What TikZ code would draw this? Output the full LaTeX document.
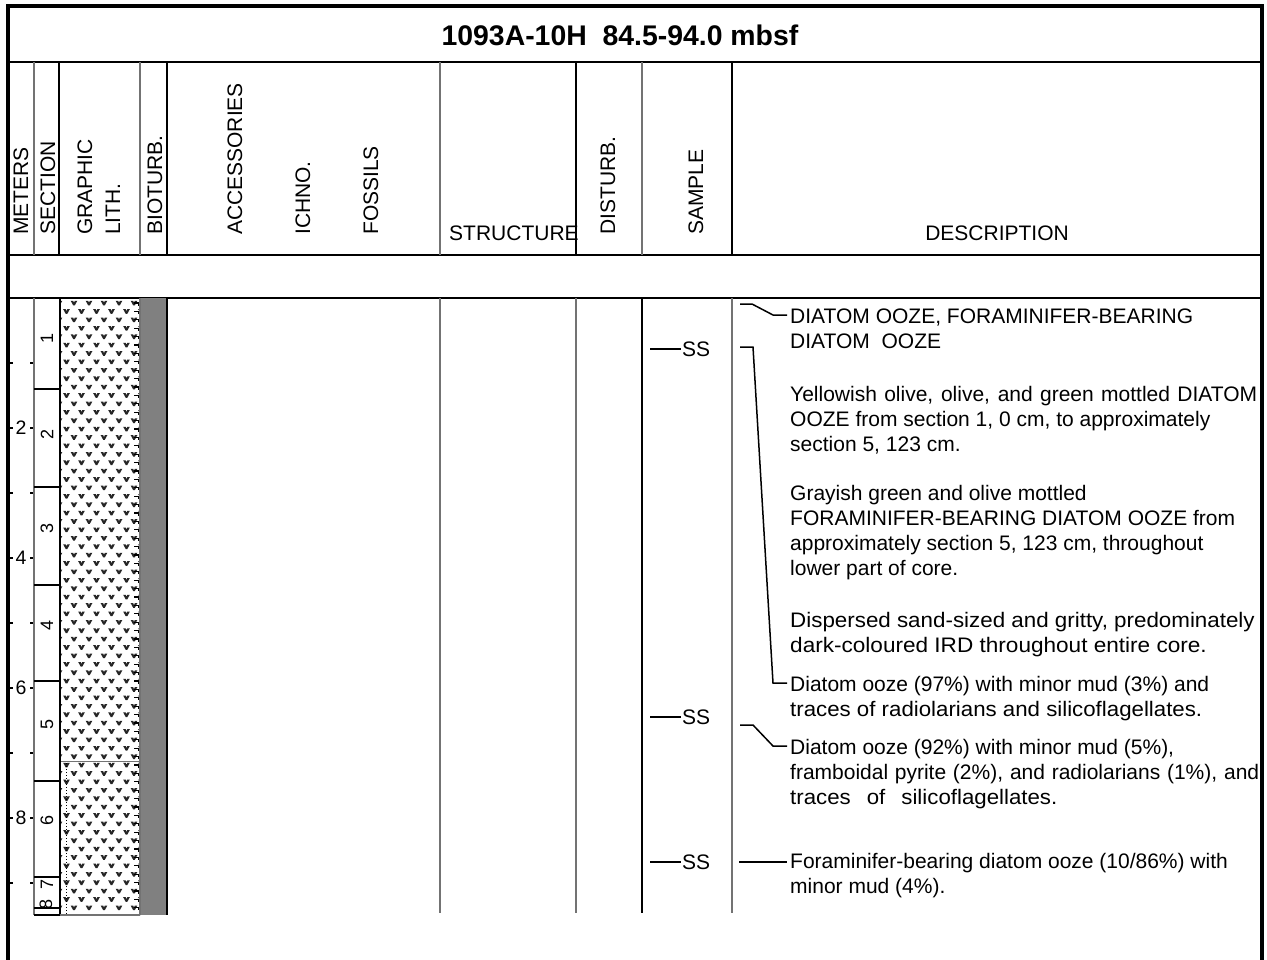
\documentclass[tikz,border=0pt]{standalone}
\usepackage{graphicx}
\usepackage{fontspec}
\setmainfont{Liberation Sans}
\newcommand\diasym[2]{%
  \fill[black!85] (#1-3.3,#2-2.2) -- (#1-0.8,#2-2.2) -- (#1,#2-0.3) -- (#1+0.8,#2-2.2) -- (#1+3.3,#2-2.2) -- (#1+0.8,#2+2.4) -- (#1-0.8,#2+2.4) -- cycle;}
\begin{document}
\begin{tikzpicture}[x=1pt,y=-1pt,
  frame/.style={line width=4pt, black},
  rule/.style={line width=2.5pt, black},
  colblack/.style={line width=1.2pt, black},
  colgray/.style={line width=1.2pt, black!55},
  hdr/.style={font=\fontsize{21}{25}\selectfont, inner sep=0pt},
  vhdr/.style={hdr, rotate=90, anchor=base west},
  desc/.style={font=\fontsize{21}{25}\selectfont, inner sep=0pt, anchor=base west},
  mtr/.style={font=\fontsize{19.5}{22}\selectfont, inner sep=0pt},
  secnum/.style={font=\fontsize{18}{20}\selectfont, inner sep=0pt, rotate=90},
  conn/.style={line width=1.5pt, black},
  ssmark/.style={line width=1.5pt, black},
  tick/.style={line width=1.5pt, black},
  secline/.style={line width=2pt, black}
]
\useasboundingbox (0,0) rectangle (1267,959);
\fill[white] (0,0) rectangle (1267,959);

% ---------- frame and rows ----------
\draw[frame] (8,962) -- (8,6) -- (1262,6) -- (1262,962);
\draw[rule] (8,62) -- (1262,62);
\draw[rule] (8,255) -- (1262,255);
\draw[rule] (8,298) -- (1262,298);

% ---------- title ----------
\node[font=\bfseries\fontsize{28.4}{32}\selectfont, inner sep=0pt, anchor=base] (title) at (620,45) {1093A-10H\ \ 84.5-94.0 mbsf};

% ---------- header column lines ----------
\foreach \x in {34,140,440,642} {\draw[colgray] (\x,62) -- (\x,255);}
\foreach \x in {59,167,576,732} {\draw[colblack] (\x,62) -- (\x,255);}

% ---------- header labels ----------
\node[vhdr] (hmeters) at (28,235) {METERS};
\node[vhdr] (hsection) at (55,235) {SECTION};
\node[vhdr] (hgraphic) at (92,235) {GRAPHIC};
\node[vhdr] (hlith) at (120,235) {LITH.};
\node[vhdr] (hbioturb) at (162,235) {BIOTURB.};
\node[vhdr] (haccess) at (242,235) {ACCESSORIES};
\node[vhdr] (hichno) at (310,235) {ICHNO.};
\node[vhdr] (hfossils) at (378,235) {FOSSILS};
\node[hdr, anchor=base west] (hstruct) at (449,240) {STRUCTURE};
\node[vhdr] (hdisturb) at (615,235) {DISTURB.};
\node[vhdr] (hsample) at (703,235) {SAMPLE};
\node[hdr, anchor=base] (hdesc) at (997,240) {DESCRIPTION};

% ---------- meter scale ----------
\foreach \m in {1,...,9} {
  \pgfmathsetmacro\yy{298+\m*65}
  \draw[tick] (8,\yy) -- (13,\yy);
  \draw[tick] (30,\yy) -- (34,\yy);
}
\node[mtr] (m2) at (21,428) {2};
\node[mtr] (m4) at (21,558) {4};
\node[mtr] (m6) at (21,688) {6};
\node[mtr] (m8) at (21,818) {8};

% ---------- section column ----------
\draw[colgray] (34,298) -- (34,915);
\foreach \y in {389,487,585,681,781,877,908,915} {\draw[secline] (34,\y) -- (60,\y);}
\node[secnum] (s1) at (47,338) {1};
\node[secnum] (s2) at (47,434) {2};
\node[secnum] (s3) at (47,528) {3};
\node[secnum] (s4) at (47,625) {4};
\node[secnum] (s5) at (47,724) {5};
\node[secnum] (s6) at (47,820) {6};
\node[secnum] (s7) at (47,884) {7};
\node[secnum] (s8) at (46,904) {8};

% ---------- graphic lithology ----------
\begin{scope}
\clip (60,298) rectangle (140,915);
\foreach \r in {0,...,73} {
  \pgfmathsetmacro\yy{303+\r*8.4}
  \pgfmathsetmacro\off{mod(\r,2)*7.5}
  \foreach \c in {0,...,5} {
    \pgfmathsetmacro\xx{59+\c*15+\off}
    \diasym{\xx}{\yy}
  }
  \draw[line width=1.3pt] (134,\yy) -- (139,\yy) -- (139,\yy+2.6);
}
\end{scope}
\draw[line width=1pt, black!55] (60,761) -- (140,761);
\draw[line width=1pt, black, dotted] (66,763) -- (66,914);
\draw[line width=2.5pt] (60,298) -- (60,916);
\draw[colgray] (60,915) -- (140,915);
\draw[colgray] (140,298) -- (140,915);

% ---------- bioturbation ----------
\fill[black!50] (140.6,298) rectangle (167,915);
\draw[line width=2pt] (167,298) -- (167,915);

% ---------- data column lines ----------
\foreach \x in {440,576,732} {\draw[colgray] (\x,298) -- (\x,913);}
\draw[colblack] (642,298) -- (642,913);

% ---------- samples ----------
\node[hdr, anchor=west] (ss1) at (682,349) {SS};
\node[hdr, anchor=west] (ss2) at (682,717) {SS};
\node[hdr, anchor=west] (ss3) at (682,862) {SS};
\coordinate (sa1) at (650,349);
\coordinate (sa2) at (650,717);
\coordinate (sa3) at (650,862);
\draw[ssmark] (sa1) -- ([xshift=-1pt]ss1.west);
\draw[ssmark] (sa2) -- ([xshift=-1pt]ss2.west);
\draw[ssmark] (sa3) -- ([xshift=-1pt]ss3.west);

% ---------- description ----------
\node[desc] (d1) at (790,323.5) {\parbox[t]{480pt}{DIATOM OOZE, FORAMINIFER-BEARING\\DIATOM\ \ OOZE}};
\node[desc] (d2) at (790,401) {\parbox[t]{480pt}{\makebox[467pt][s]{Yellowish olive, olive, and green mottled DIATOM}\\OOZE from section 1, 0 cm, to approximately\\section 5, 123 cm.}};
\node[desc] (d3) at (790,500) {\parbox[t]{480pt}{Grayish green and olive mottled\\FORAMINIFER-BEARING DIATOM OOZE from\\approximately section 5, 123 cm, throughout\\lower part of core.}};
\node[desc] (d4) at (790,627.5) {\parbox[t]{480pt}{\scalebox{1.065}[1]{Dispersed sand-sized and gritty, predominately}\\\scalebox{1.075}[1]{dark-coloured IRD throughout entire core.}}};
\node[desc] (d5) at (790,691) {\parbox[t]{480pt}{Diatom ooze (97\%) with minor mud (3\%) and\\\scalebox{1.06}[1]{traces of radiolarians and silicoflagellates.}}};
\node[desc] (d6) at (790,754.5) {\parbox[t]{480pt}{Diatom ooze (92\%) with minor mud (5\%),\\\makebox[469pt][s]{framboidal pyrite (2\%), and radiolarians (1\%), and}\\\scalebox{1.06}[1]{\makebox[252pt][s]{traces of silicoflagellates.}}}};
\node[desc] (d7) at (790,868.5) {\parbox[t]{480pt}{Foraminifer-bearing diatom ooze (10/86\%) with\\minor mud (4\%).}};

% ---------- connectors ----------
\coordinate (c1a) at (740,304); \coordinate (c1b) at (752,304);
\coordinate (c1c) at (773,315); \coordinate (c1d) at (787,315);
\draw[conn] (c1a) -- (c1b) -- (c1c) -- (c1d);

\coordinate (c2a) at (740,347); \coordinate (c2b) at (753,347);
\coordinate (c2c) at (773,683); \coordinate (c2d) at (787,683);
\draw[conn] (c2a) -- (c2b) -- (c2c) -- (c2d);

\coordinate (c3a) at (740,725); \coordinate (c3b) at (753,725);
\coordinate (c3c) at (773,746); \coordinate (c3d) at (787,746);
\draw[conn] (c3a) -- (c3b) -- (c3c) -- (c3d);

\coordinate (c4a) at (739,862); \coordinate (c4b) at (787,862);
\draw[conn] (c4a) -- (c4b);
\end{tikzpicture}
\end{document}
